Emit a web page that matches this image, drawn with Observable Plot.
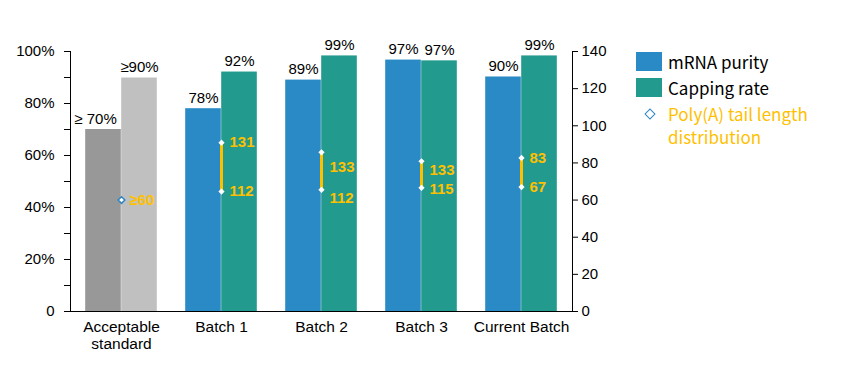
<!DOCTYPE html>
<html>
<head>
<meta charset="utf-8">
<script src="https://cdn.jsdelivr.net/npm/d3@7"></script>
<script src="https://cdn.jsdelivr.net/npm/@observablehq/plot@0.6"></script>
<style>
  html, body { margin: 0; padding: 0; background: #fff; }
  #wrap { position: relative; width: 843px; height: 371px; }
  #legend { position: absolute; left: 636px; top: 48px; font-family: "Noto Sans CJK SC", "Noto Sans", sans-serif; font-size: 17px; }
  .row { display: flex; align-items: center; height: 26.5px; }
  .sw { width: 26px; height: 19px; margin-right: 6px; }
  .poly { display: flex; align-items: flex-start; color: #FFC000; line-height: 23px; margin-top: 1px; }
  .dia { width: 6px; height: 6px; border: 1.5px solid #2E86C1; background: #fff; transform: rotate(45deg); margin: 8px 14px 0 10px; }
</style>
</head>
<body>
<div id="wrap"><div id="chart"></div>
<div id="legend">
  <div class="row"><div class="sw" style="background:#2A8AC6"></div><span>mRNA purity</span></div>
  <div class="row"><div class="sw" style="background:#229A8E"></div><span>Capping rate</span></div>
  <div class="poly"><div class="dia"></div><span>Poly(A) tail length<br>distribution</span></div>
</div>
</div>
<script>
const categories = ["Acceptable standard", "Batch 1", "Batch 2", "Batch 3", "Current Batch"];
const purity = [70, 78, 89, 96.7, 90.2];
const capping = [89.8, 92.1, 98.3, 96.4, 98.3];
const purityLabels = ["≥ 70%", "78%", "89%", "97%", "90%"];
const cappingLabels = ["≥90%", "92%", "99%", "97%", "99%"];
// Poly(A) tail length, right axis units (0–140)
const polyHigh = [60, 90.9, 85.7, 80.9, 82.7];
const polyLow = [null, 64.6, 65.5, 66.6, 67];
const polyHighLabels = ["≥60", "131", "133", "133", "83"];
const polyLowLabels = [null, "112", "112", "115", "67"];
const polyHighLabelAt = [60, 90.9, 77.5, 76.3, 82.7];
const polyLowLabelAt = [null, 64.6, 60.9, 66.1, 67];
const leftTicks = [0, 10, 20, 30, 40, 50, 60, 70, 80, 90, 100];
const rightTicks = [0, 20, 40, 60, 80, 100, 120, 140];
const rightMax = 140;

const toPct = v => v / rightMax * 100;
const isStd = c => c === categories[0];

const bars = [];
categories.forEach((c, i) => {
  bars.push({cat: c, series: "purity", value: purity[i], label: purityLabels[i]});
  bars.push({cat: c, series: "capping", value: capping[i], label: cappingLabels[i]});
});
const poly = categories.map((c, i) => ({cat: c, hi: polyHigh[i], lo: polyLow[i],
  hiLabel: polyHighLabels[i], loLabel: polyLowLabels[i], hiAt: polyHighLabelAt[i], loAt: polyLowLabelAt[i]}));

const W = 843, H = 371, mL = 70, mR = 271;
const bw = (W - mL - mR) / categories.length;
const half = 36;
const outer = bw / 2 - half;

const colorOf = d => d.series === "purity"
  ? (isStd(d.cat) ? "#989898" : "#2A8AC6")
  : (isStd(d.cat) ? "#C0C0C0" : "#229A8E");

const orange = "#FFC000";
const purityBars = bars.filter(d => d.series === "purity");
const cappingBars = bars.filter(d => d.series === "capping");

const chart = Plot.plot({
  width: W, height: H,
  marginLeft: mL, marginRight: mR, marginTop: 51, marginBottom: 60,
  style: {fontFamily: "'Liberation Sans', Arial, sans-serif", fontSize: "15px", color: "#000", background: "#fff"},
  x: {domain: categories, padding: 0},
  y: {domain: [0, 100]},
  marks: [
    Plot.barY(purityBars, {x: "cat", y: "value", fill: colorOf, insetLeft: outer, insetRight: bw / 2}),
    Plot.barY(cappingBars, {x: "cat", y: "value", fill: colorOf, insetLeft: bw / 2, insetRight: outer}),
    Plot.text(purityBars.filter(d => !isStd(d.cat)), {x: "cat", y: "value", text: "label", dx: -half / 2, dy: -6, lineAnchor: "bottom", fill: "#000"}),
    Plot.text(purityBars.filter(d => isStd(d.cat)), {x: "cat", y: "value", text: "label", dx: -half / 2 - 8, dy: -6, lineAnchor: "bottom", fill: "#000"}),
    Plot.text(cappingBars, {x: "cat", y: "value", text: "label", dx: half / 2, dy: -6, lineAnchor: "bottom", fill: "#000"}),
    Plot.ruleX(poly.filter(d => d.lo != null), {x: "cat", y1: d => toPct(d.lo), y2: d => toPct(d.hi), stroke: orange, strokeWidth: 3}),
    Plot.dot(poly.filter(d => d.lo != null), {x: "cat", y: d => toPct(d.hi), symbol: "diamond2", r: 2.8, fill: "#fff"}),
    Plot.dot(poly.filter(d => d.lo != null), {x: "cat", y: d => toPct(d.lo), symbol: "diamond2", r: 2.8, fill: "#fff"}),
    Plot.dot(poly.filter(d => d.lo == null), {x: "cat", y: d => toPct(d.hi), symbol: "diamond2", r: 3, fill: "#fff", stroke: "#2E86C1", strokeWidth: 1.5}),
    Plot.text(poly, {x: "cat", y: d => toPct(d.hiAt), text: "hiLabel", dx: 8, textAnchor: "start", fill: orange, fontWeight: "bold"}),
    Plot.text(poly.filter(d => d.lo != null), {x: "cat", y: d => toPct(d.loAt), text: "loLabel", dx: 8, textAnchor: "start", fill: orange, fontWeight: "bold"}),
    Plot.axisY(leftTicks, {anchor: "left", tickSize: 6, tickPadding: 10, label: null,
      tickFormat: d => d % 20 ? "" : (d === 0 ? "0" : d + "%")}),
    Plot.axisY(rightTicks.map(toPct), {anchor: "right", tickSize: 5, tickPadding: 4, label: null,
      tickFormat: d => String(Math.round(d * rightMax / 100))}),
    Plot.axisX({tickSize: 0, tickPadding: 8, label: null, lineHeight: 1.13, fontSize: 15.5,
      tickFormat: d => d === "Acceptable standard" ? "Acceptable\nstandard" : d}),
    Plot.frame({anchor: "left", stroke: "#000"}),
    Plot.frame({anchor: "right", stroke: "#000"}),
    Plot.ruleY([0], {stroke: "#000"})
  ]
});
document.getElementById("chart").appendChild(chart);
</script>
</body>
</html>
